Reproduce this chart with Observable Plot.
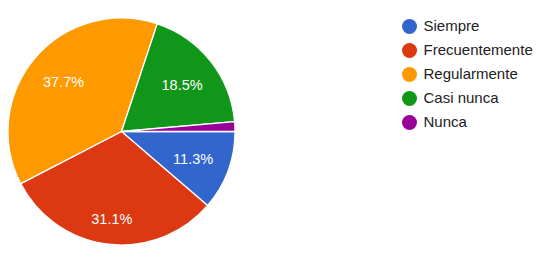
<!DOCTYPE html>
<html>
<head>
<meta charset="utf-8">
<script src="https://cdn.jsdelivr.net/npm/d3@7"></script>
<script src="https://cdn.jsdelivr.net/npm/@observablehq/plot@0.6"></script>
<style>
  html, body { margin: 0; padding: 0; background: #fff; }
  #chart svg { display: block; }
</style>
</head>
<body>
<div id="chart"></div>
<script>
const categories = ["Siempre", "Frecuentemente", "Regularmente", "Casi nunca", "Nunca"];
const values = [11.3, 31.1, 37.7, 18.5, 1.4];
const colors = ["#3366cc", "#dc3912", "#ff9900", "#109618", "#990099"];
const labels = ["11.3%", "31.1%", "37.7%", "18.5%", ""];

const W = 539, H = 259;
const cx = 121.5, cy = 131.5, R = 113.5;
const font = "'Liberation Sans', Arial, sans-serif";
const labelSize = 14.5;

const data = categories.map((c, i) => ({category: c, value: values[i], label: labels[i], i}));

const pie = d3.pie().sort(null).value(d => d.value)
  .startAngle(Math.PI / 2).endAngle(Math.PI / 2 + 2 * Math.PI);
const arcs = pie(data);
const arc = d3.arc().innerRadius(0).outerRadius(R);

// label placement: text box's outer extent along the bisector sits at ~0.855R
const ctx = document.createElement("canvas").getContext("2d");
ctx.font = `${labelSize}px ${font}`;
arcs.forEach(a => {
  const mid = (a.startAngle + a.endAngle) / 2;
  const dx = Math.sin(mid), dy = -Math.cos(mid);
  const hw = ctx.measureText(a.data.label).width / 2;
  const hh = labelSize * 0.48;
  const dist = R * 0.855 - (hw * Math.abs(dx) + hh * Math.abs(dy));
  a.data.lx = cx + dx * dist;
  a.data.ly = cy + dy * dist + 0.5;
});

const colorScale = Plot.scale({color: {type: "ordinal", domain: categories, range: colors}});

function pieMark(index, scales) {
  const g = d3.create("svg:g")
    .attr("transform", `translate(${scales.x(cx)},${scales.y(cy)})`);
  g.selectAll("path")
    .data(arcs)
    .join("path")
    .attr("d", arc)
    .attr("fill", d => colorScale.apply(d.data.category))
    .attr("stroke", "#fff")
    .attr("stroke-width", 1.3)
    .attr("stroke-linejoin", "round");
  return g.node();
}

const legendData = categories.map((c, i) => ({category: c, ly: 26 + i * 24}));

const chart = Plot.plot({
  width: W,
  height: H,
  margin: 0,
  style: {background: "#fff", fontFamily: font},
  x: {domain: [0, W], range: [0, W], axis: null},
  y: {domain: [0, H], range: [0, H], axis: null},
  color: {type: "ordinal", domain: categories, range: colors},
  marks: [
    pieMark,
    Plot.text(data.filter(d => d.label), {
      x: "lx", y: "ly", text: "label",
      fill: "#fff", fontSize: labelSize, fontFamily: font, textAnchor: "middle", lineAnchor: "middle"
    }),
    Plot.dot(legendData, {
      x: () => 409, y: "ly", r: 7.5, fill: "category", stroke: null
    }),
    Plot.text(legendData, {
      x: () => 423, y: "ly", text: "category", fill: "#222",
      fontSize: 15, fontFamily: font, textAnchor: "start", lineAnchor: "middle"
    })
  ]
});

document.getElementById("chart").appendChild(chart);
</script>
</body>
</html>
